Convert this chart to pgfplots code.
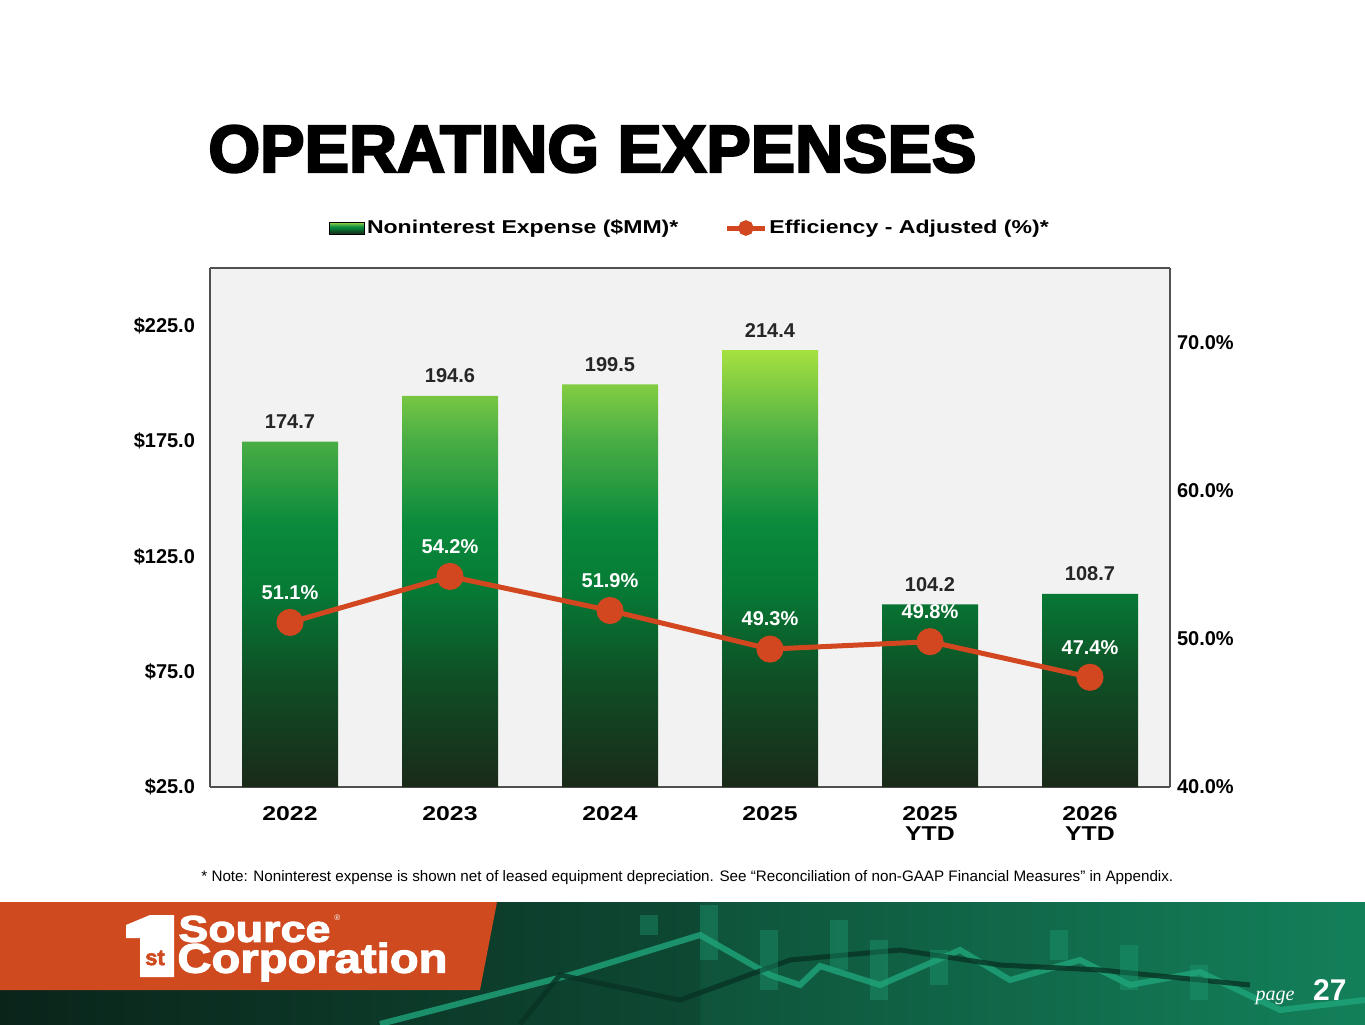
\documentclass[border=0pt]{standalone}
\usepackage{pgfplots}
\pgfplotsset{compat=1.18}
\usepackage{fontspec}
\setmainfont{Liberation Sans}
\newfontfamily\heavy[FakeBold=3.5]{Liberation Sans Bold}
\newfontfamily\logofont[FakeBold=2.5]{Liberation Sans Bold}
\newfontfamily\widebold[FakeStretch=1.24]{Liberation Sans Bold}
\newfontfamily\pageserif{Liberation Serif}
\definecolor{plotbg}{HTML}{F2F2F2}
\definecolor{frame}{HTML}{505050}
\definecolor{gA}{HTML}{A6E040}
\definecolor{gB}{HTML}{4CAF45}
\definecolor{gC}{HTML}{0A8A3C}
\definecolor{gD}{HTML}{067A35}
\definecolor{gE}{HTML}{0F4F25}
\definecolor{gF}{HTML}{1A2A1A}
\definecolor{effline}{HTML}{D2471F}
\definecolor{orng}{HTML}{CF4A1F}
\definecolor{ftdark}{HTML}{0A241A}
\definecolor{ftgreen}{HTML}{13805A}
\definecolor{ftline}{HTML}{1FA57A}
\pgfdeclareverticalshading{barshade}{100bp}{color(0bp)=(gF); color(25bp)=(gF); color(37.5bp)=(gE); color(47.5bp)=(gD); color(55bp)=(gC); color(65bp)=(gB); color(75bp)=(gA); color(100bp)=(gA)}
\begin{document}
\begin{tikzpicture}
\useasboundingbox (0,0) rectangle (682.5pt,512pt);
\fill[white] (0,0) rectangle (682.5pt,512pt);
\begin{scope}[yshift=512pt, x=0.5pt, y=-0.5pt]
% title
\node[anchor=west,inner sep=0pt] at (208,149) {\resizebox{384pt}{!}{\heavy\fontsize{32}{36}\selectfont OPERATING EXPENSES}};
% footer
\shade[left color=ftdark,right color=ftgreen] (0,902) rectangle (1365,1024);
\shade[left color=ftdark,right color=ftdark!60!ftgreen] (0,902) rectangle (700,1024);
\draw[ftline,line width=3pt,opacity=0.8] (380,1024) -- (570,975) -- (700,935) -- (770,975) -- (800,985) -- (820,966) -- (880,985) -- (960,950) -- (1010,980) -- (1080,960) -- (1130,985) -- (1200,972) -- (1280,1010) -- (1365,1000);
\draw[black!60!ftgreen,line width=2.5pt,opacity=0.8] (520,1024) -- (560,975) -- (680,1000) -- (790,960) -- (900,950) -- (1000,965) -- (1100,970) -- (1250,985);
\foreach \x/\a/\b in {640/915/935,700/905/960,760/930/990,830/920/970,870/940/1000,930/950/985,1050/930/960,1120/945/990,1190/965/1000}
  {\fill[ftline,opacity=0.35] (\x,\a) rectangle (\x+18,\b);}
\fill[orng] (0,902) -- (497,902) -- (480,990) -- (0,990) -- cycle;
% logo
\fill[white] (126,925) -- (150,915) -- (174,915) -- (174,977) -- (140,977) -- (140,938) -- (126,938) -- cycle;
\node[orng,font=\logofont\fontsize{11}{11}\selectfont,inner sep=0pt] at (155,958) {st};
\node[anchor=west,white,inner sep=0pt] at (178,929) {\resizebox{76pt}{13pt}{\logofont Source}};
\node[anchor=west,white,inner sep=0pt] at (334,918) {\fontsize{4}{4}\selectfont\textregistered};
\node[anchor=west,white,inner sep=0pt] at (177,962) {\resizebox{135pt}{15pt}{\logofont Corporation}};
% page
\node[anchor=base east,white,inner sep=0pt,font=\pageserif\itshape\fontsize{10}{10}\selectfont] at (1295,1000) {page};
\node[anchor=base east,white,inner sep=0pt,font=\bfseries\fontsize{15}{15}\selectfont] at (1347,1000) {27};
% footnote
\node[anchor=west,inner sep=0pt,font=\fontsize{7.6}{9}\selectfont] at (201,878) {* Note: Noninterest expense is shown net of leased equipment depreciation. See “Reconciliation of non-GAAP Financial Measures” in Appendix.};
\end{scope}
% bars axis
\begin{axis}[
  at={(105pt,118.5pt)}, anchor=south west, scale only axis,
  width=480pt, height=259.5pt,
  xmin=-0.5, xmax=5.5, ymin=25, ymax=250,
  axis background/.style={fill=plotbg},
  axis line style={draw=frame, line width=0.6pt},
  /pgf/number format/assume math mode=true,
  tick label style={font=\bfseries\fontsize{10}{12}\selectfont},
  xtick={0,...,5},
  xticklabels={2022,2023,2024,2025,{2025\\[-2pt]YTD},{2026\\[-2pt]YTD}},
  xticklabel style={align=center, yshift=-2pt, font=\widebold\fontsize{10}{12}\selectfont},
  major x tick style={draw=none},
  extra x ticks={0.5,1.5,2.5,3.5,4.5},
  extra x tick labels={},
  extra x tick style={major tick length=5pt, tick style={draw=frame, line width=0.6pt}, xtick pos=bottom},
  ytick={25,75,125,175,225},
  yticklabel={\$\pgfmathprintnumber[fixed,fixed zerofill,precision=1]{\tick}},
  yticklabel style={xshift=-4pt},
  major y tick style={draw=none},
  axis y line*=left,
  axis x line*=bottom,
  ybar, bar width=48pt,
  clip=false,
]
\addplot[draw=none, shade, shading=barshade,
  nodes near coords={\pgfmathprintnumber[fixed,fixed zerofill,precision=1]{\pgfplotspointmeta}},
  nodes near coords style={font=\bfseries\fontsize{10}{12}\selectfont, text=black!85, anchor=center, yshift=10pt, /pgf/number format/assume math mode=true},
] coordinates {(0,174.7) (1,194.6) (2,199.5) (3,214.4) (4,104.2) (5,108.7)};
\end{axis}
% line axis
\begin{axis}[
  at={(105pt,118.5pt)}, anchor=south west, scale only axis,
  width=480pt, height=259.5pt,
  xmin=-0.5, xmax=5.5, ymin=40, ymax=75,
  axis line style={draw=frame, line width=0.6pt},
  /pgf/number format/assume math mode=true,
  tick label style={font=\bfseries\fontsize{10}{12}\selectfont},
  xtick=\empty,
  ytick={40,50,60,70},
  yticklabel={\pgfmathprintnumber[fixed,fixed zerofill,precision=1]{\tick}\%},
  major y tick style={draw=none},
  axis y line*=right,
  axis x line*=top,
  clip=false,
  legend style={at={(0.5,1.077)}, anchor=center, draw=none, fill=none,
     legend columns=2, font=\widebold\fontsize{9.3}{11}\selectfont,
     /tikz/every even column/.append style={column sep=22pt},
     /tikz/every odd column/.append style={column sep=0pt},
     nodes={inner xsep=1pt}},
  legend cell align=left,
]
\addlegendimage{legend image code/.code={\fill[shading=barshade] (0pt,-3pt) rectangle (17.5pt,3pt);}}
\addlegendentry{Noninterest Expense (\$MM)*}
\addplot[effline, line width=2.5pt, mark=*, mark size=5.5pt, mark options={fill=effline, draw=effline},
  nodes near coords={\pgfmathprintnumber[fixed,fixed zerofill,precision=1]{\pgfplotspointmeta}\%},
  nodes near coords style={font=\bfseries\fontsize{10}{12}\selectfont, text=white, anchor=center, yshift=15pt, /pgf/number format/assume math mode=true},
  legend image code/.code={\draw[effline, line width=2.5pt] (0pt,0pt) -- (19pt,0pt); \fill[effline] (9.5pt,0pt) circle (2.6pt);},
] coordinates {(0,51.1) (1,54.2) (2,51.9) (3,49.3) (4,49.8) (5,47.4)};
\addlegendentry{Efficiency - Adjusted (\%)*}
\end{axis}
\end{tikzpicture}
\end{document}
